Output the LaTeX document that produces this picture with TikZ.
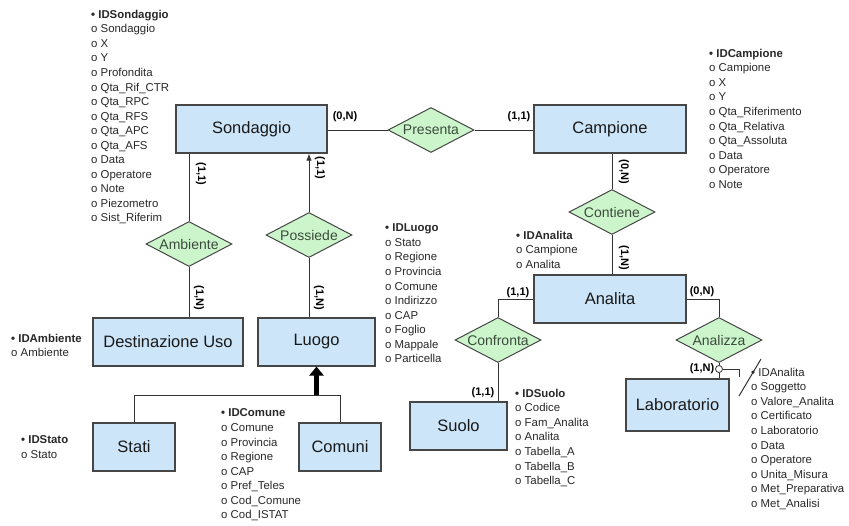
\documentclass[tikz,border=0pt]{standalone}
\usepackage{fontspec}
\setmainfont{Liberation Sans}
\usetikzlibrary{shapes.geometric,arrows.meta}
\definecolor{entfill}{RGB}{204,229,249}
\definecolor{relfill}{RGB}{204,245,204}
\definecolor{edgegray}{RGB}{70,70,70}
\definecolor{reltext}{RGB}{60,75,60}
\definecolor{attrtext}{RGB}{40,40,40}
\begin{document}
\begin{tikzpicture}[x=1pt,y=-1pt,
  entity/.style={draw=edgegray, line width=1.1pt, fill=entfill, inner sep=0pt,
    font=\fontsize{16.5}{18}\selectfont, text=black!90},
  relation/.style={diamond, shape aspect=1.91, draw=edgegray, line width=1pt, fill=relfill, inner sep=0pt,
    minimum width=86pt, minimum height=45pt, font=\fontsize{14}{16}\selectfont, text=reltext},
  attrs/.style={anchor=north west, inner sep=0pt, align=left,
    font=\fontsize{11.4}{14.55}\selectfont, text=attrtext},
  card/.style={inner sep=0pt, font=\bfseries\fontsize{11}{12}\selectfont},
  link/.style={draw=black!80, line width=1pt},
]
\useasboundingbox[fill=white] (0,0) rectangle (849,525);

% ---------- entities ----------
\node[entity, minimum width=151pt, minimum height=48pt] (sond)  at (251.5,129) {Sondaggio};
\node[entity, minimum width=152pt, minimum height=48pt] (camp)  at (610,129)   {Campione};
\node[entity, minimum width=152pt, minimum height=48pt] (ana)   at (610,299)   {Analita};
\node[entity, minimum width=150pt, minimum height=48pt] (dest)  at (168,342)   {Destinazione Uso};
\node[entity, minimum width=117pt, minimum height=48pt] (luogo) at (316.5,342) {Luogo};
\node[entity, minimum width=82pt,  minimum height=48pt] (stati) at (134,447)   {Stati};
\node[entity, minimum width=82pt,  minimum height=48pt] (comuni) at (340,447)  {Comuni};
\node[entity, minimum width=97pt,  minimum height=48pt] (suolo) at (458.5,426) {Suolo};
\node[entity, minimum width=103pt, minimum height=52pt] (lab)   at (677.5,405) {Laboratorio};

% ---------- relationships ----------
\node[relation] (pres) at (431,130) {Presenta};
\node[relation] (cont) at (612,212) {Contiene};
\node[relation] (conf) at (498,340) {Confronta};
\node[relation] (anlz) at (719,340) {Analizza};
\node[relation] (amb)  at (189,244) {Ambiente};
\node[relation] (poss) at (309,235) {Possiede};

% ---------- connectors ----------
\draw[link] (pres.west -| sond.east) -- (pres.west);
\draw[link] (pres.east) -- (pres.east -| camp.west);
\draw[link] (camp.south -| cont.north) -- (cont.north);
\draw[link] (cont.south) -- (cont.south |- ana.north);
\draw[link] (ana.west) -- (ana.west -| conf.north) -- (conf.north);
\draw[link] (conf.south) -- (conf.south |- suolo.north);
\draw[link] (ana.east) -| (anlz.north);
\draw[link] (sond.south -| amb.north) -- (amb.north);
\draw[link] (amb.south) -- (amb.south |- dest.north);
\draw[link, -{Latex[length=7pt,width=5.5pt]}] (poss.north) -- (poss.north |- sond.south);
\draw[link] (poss.south) -- (poss.south |- luogo.north);

% optional participation and composite identifier of Analizza
\node[circle, draw=edgegray, line width=0.9pt, fill=white, inner sep=0pt, minimum size=7pt] (opt) at (719,369) {};
\draw[link] (anlz.south) -- (opt.north);
\draw[link] (opt.south) -- (opt.south |- lab.north);
\coordinate (idcorner) at (739,369);
\coordinate (slashA) at (739,396);
\coordinate (slashB) at (761,359);
\draw[link] (opt.east) -- (idcorner) -- ++(0,8);
\draw[link] (slashA) -- (slashB);

% generalisation Stati / Comuni -> Luogo
\coordinate (gen) at (315,395);
\draw[link] (stati.north) -- (stati.north |- gen) -- (comuni.north |- gen) -- (comuni.north);
\draw[line width=5pt, -{Triangle[length=9pt,width=14pt]}] (luogo.south |- gen) -- (luogo.south);

% ---------- cardinalities ----------
\node[card] (k1) at (345,117) {(0,N)};
\node[card] (k2) at (519,117) {(1,1)};
\node[card, rotate=-90] (k3) at (201,174) {(1,1)};
\node[card, rotate=-90] (k4) at (320,168) {(1,1)};
\node[card, rotate=-90] (k5) at (199,298) {(1,N)};
\node[card, rotate=-90] (k6) at (319,298) {(1,N)};
\node[card, rotate=-90] (k7) at (624,172) {(0,N)};
\node[card, rotate=-90] (k8) at (624,258) {(1,N)};
\node[card] (k9)  at (518,293) {(1,1)};
\node[card] (k10) at (702,292) {(0,N)};
\node[card] (k11) at (483,393) {(1,1)};
\node[card] (k12) at (702,369) {(1,N)};

% ---------- attribute lists ----------
\node[attrs] (asond) at (91,9.8) {\textbf{• IDSondaggio}\\o Sondaggio\\o X\\o Y\\o Profondita\\o Qta\_Rif\_CTR\\o Qta\_RPC\\o Qta\_RFS\\o Qta\_APC\\o Qta\_AFS\\o Data\\o Operatore\\o Note\\o Piezometro\\o Sist\_Riferim};
\node[attrs] (acamp) at (709,48.8) {\textbf{• IDCampione}\\o Campione\\o X\\o Y\\o Qta\_Riferimento\\o Qta\_Relativa\\o Qta\_Assoluta\\o Data\\o Operatore\\o Note};
\node[attrs] (aluogo) at (385,223.8) {\textbf{• IDLuogo}\\o Stato\\o Regione\\o Provincia\\o Comune\\o Indirizzo\\o CAP\\o Foglio\\o Mappale\\o Particella};
\node[attrs] (aana) at (516,230.8) {\textbf{• IDAnalita}\\o Campione\\o Analita};
\node[attrs] (aamb) at (11,333.8) {\textbf{• IDAmbiente}\\o Ambiente};
\node[attrs] (astato) at (21,435.8) {\textbf{• IDStato}\\o Stato};
\node[attrs] (acom) at (221,408.8) {\textbf{• IDComune}\\o Comune\\o Provincia\\o Regione\\o CAP\\o Pref\_Teles\\o Cod\_Comune\\o Cod\_ISTAT};
\node[attrs] (asuolo) at (515,388.8) {\textbf{• IDSuolo}\\o Codice\\o Fam\_Analita\\o Analita\\o Tabella\_A\\o Tabella\_B\\o Tabella\_C};
\node[attrs] (alab) at (751,367.8) {• IDAnalita\\o Soggetto\\o Valore\_Analita\\o Certificato\\o Laboratorio\\o Data\\o Operatore\\o Unita\_Misura\\o Met\_Preparativa\\o Met\_Analisi};
\end{tikzpicture}
\end{document}
